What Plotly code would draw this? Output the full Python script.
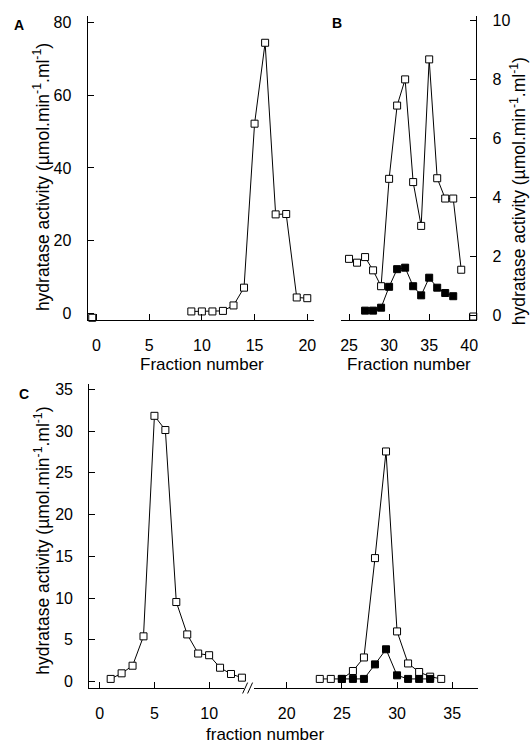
import plotly.graph_objects as go

W, H = 532, 748

# ---- data ----
a_x = [9, 10, 11, 12, 13, 14, 15, 16, 17, 18, 19, 20]
a_y = [0.45, 0.45, 0.45, 0.6, 2.1, 7.0, 52.2, 74.5, 27.2, 27.3, 4.3, 4.1]
a_corner_x = [-0.4]
a_corner_y = [-1.3]

b_open_x = [25, 26, 27, 28, 29, 30, 31, 32, 33, 34, 35, 36, 37, 38, 39]
b_open_y = [1.91, 1.78, 1.97, 1.52, 0.98, 4.63, 7.12, 8.01, 4.52, 3.03, 8.69, 4.65, 3.96, 3.96, 1.54]
b_fill_x = [27, 28, 29, 30, 31, 32, 33, 34, 35, 36, 37, 38]
b_fill_y = [0.15, 0.15, 0.25, 0.96, 1.56, 1.61, 0.98, 0.67, 1.27, 0.93, 0.75, 0.64]
b_corner_x = [40.5]
b_corner_y = [-0.05]

c1_x = [1, 2, 3, 4, 5, 6, 7, 8, 9, 10, 11, 12, 13]
c1_y = [0.32, 0.99, 1.9, 5.42, 31.83, 30.13, 9.53, 5.65, 3.36, 3.16, 1.66, 0.91, 0.47]
c2_open_x = [23, 24, 25, 26, 27, 28, 29, 30, 31, 32, 33, 34]
c2_open_y = [0.32, 0.32, 0.32, 1.27, 2.89, 14.79, 27.56, 6.01, 2.17, 1.15, 0.59, 0.32]
c2_fill_x = [25, 26, 27, 28, 29, 30, 31, 32, 33]
c2_fill_y = [0.32, 0.32, 0.32, 2.06, 3.87, 0.75, 0.32, 0.32, 0.32]

a_xticks = [0, 5, 10, 15, 20]
a_yticks = [0, 20, 40, 60, 80]
b_xticks = [25, 30, 35, 40]
b_yticks = [0, 2, 4, 6, 8, 10]
c_left_ticks = [0, 5, 10]
c_right_ticks = [20, 25, 30, 35]
c_yticks = [0, 5, 10, 15, 20, 25, 30, 35]

FONT = "Liberation Sans, Arial, sans-serif"
ytitle = "hydratase activity (µmol.min<sup>-1</sup>.ml<sup>-1</sup>)"

def px(x):
    return x / W

def py(y):
    return 1 - y / H

open_marker = dict(symbol="square", size=7, color="white", line=dict(color="black", width=1))
fill_marker = dict(symbol="square", size=7, color="black", line=dict(color="black", width=1))
line = dict(color="black", width=1)

fig = go.Figure()
fig.add_trace(go.Scatter(x=a_x, y=a_y, mode="lines+markers", marker=open_marker, line=line, xaxis="x", yaxis="y", cliponaxis=False))
fig.add_trace(go.Scatter(x=a_corner_x, y=a_corner_y, mode="markers", marker=open_marker, xaxis="x", yaxis="y", cliponaxis=False))
fig.add_trace(go.Scatter(x=b_open_x, y=b_open_y, mode="lines+markers", marker=open_marker, line=line, xaxis="x2", yaxis="y2", cliponaxis=False))
fig.add_trace(go.Scatter(x=b_fill_x, y=b_fill_y, mode="lines+markers", marker=fill_marker, line=line, xaxis="x2", yaxis="y2", cliponaxis=False))
fig.add_trace(go.Scatter(x=b_corner_x, y=b_corner_y, mode="markers", marker=open_marker, xaxis="x2", yaxis="y2", cliponaxis=False))
fig.add_trace(go.Scatter(x=c1_x, y=c1_y, mode="lines+markers", marker=open_marker, line=line, xaxis="x3", yaxis="y3", cliponaxis=False))
fig.add_trace(go.Scatter(x=c2_open_x, y=c2_open_y, mode="lines+markers", marker=open_marker, line=line, xaxis="x4", yaxis="y4", cliponaxis=False))
fig.add_trace(go.Scatter(x=c2_fill_x, y=c2_fill_y, mode="lines+markers", marker=fill_marker, line=line, xaxis="x4", yaxis="y4", cliponaxis=False))

tickfont = dict(family=FONT, size=16, color="black")
common = dict(showgrid=False, zeroline=False, showline=True, linecolor="black", linewidth=1,
              ticks="inside", ticklen=6, tickcolor="black", tickwidth=1, tickfont=tickfont)
xc = dict(common, ticklabelstandoff=11)
yc = dict(common, ticklabelstandoff=12)

A_top, A_bot = 13, 320
fig.update_layout(
    xaxis=dict(domain=[px(87), px(315)], range=[-0.85, 20.66], tickvals=a_xticks, anchor="y", **xc),
    yaxis=dict(domain=[py(A_bot), py(A_top)], range=[(313 - 320) / 3.6625, (313 - 13) / 3.6625], tickvals=a_yticks, anchor="x", **yc),
    xaxis2=dict(domain=[px(341.7), px(478)], range=[23.97, 40.88], tickvals=b_xticks, anchor="y2", **xc),
    yaxis2=dict(domain=[py(A_bot), py(A_top)], range=[(315 - 320) / 29.7, (315 - 13) / 29.7], tickvals=b_yticks, anchor="x2", side="right", **yc),
    xaxis3=dict(domain=[px(88.7), px(244)], range=[(88.7 - 99.3) / 11.0, (244 - 99.3) / 11.0], tickvals=c_left_ticks, anchor="y3", **xc),
    yaxis3=dict(domain=[py(691.7), py(385)], range=[(685 - 691.7) / 8.4286, (685 - 385) / 8.4286], tickvals=c_yticks, anchor="x3", **yc),
    xaxis4=dict(domain=[px(254), px(479.3)], range=[20 + (254 - 287.3) / 11.1, 20 + (479.3 - 287.3) / 11.1], tickvals=c_right_ticks, anchor="y4", **xc),
    yaxis4=dict(domain=[py(691.7), py(385)], range=[(685 - 691.7) / 8.4286, (685 - 385) / 8.4286], anchor="x4",
                visible=False, showgrid=False, zeroline=False),
)

xtitlefont = dict(family=FONT, size=17, color="black")
ytitlefont = dict(family=FONT, size=17.5, color="black")
letterfont = dict(family=FONT, size=14, color="black")

def note(text, x, y, font, angle=0):
    return dict(text=text, x=px(x), y=py(y), xref="paper", yref="paper", showarrow=False,
                xanchor="center", yanchor="middle", textangle=angle, font=font)

ann = [
    note("Fraction number", 202, 365, xtitlefont),
    note("Fraction number", 410, 365, xtitlefont),
    note("fraction number", 265, 738, xtitlefont),
    note(ytitle, 41, 176, ytitlefont, -90),
    note(ytitle, 41, 543, ytitlefont, -90),
    note(ytitle, 520, 190, ytitlefont, -90),
    note("<b>A</b>", 18, 22, letterfont),
    note("<b>B</b>", 338, 20, letterfont),
    note("<b>C</b>", 23, 395, letterfont),
]

shapes = [
    dict(type="line", xref="paper", yref="paper", x0=px(243), y0=py(697), x1=px(248), y1=py(686), line=dict(color="black", width=1)),
    dict(type="line", xref="paper", yref="paper", x0=px(248), y0=py(697), x1=px(253), y1=py(686), line=dict(color="black", width=1)),
]

fig.update_layout(width=W, height=H, margin=dict(l=0, r=0, t=0, b=0), paper_bgcolor="white", plot_bgcolor="white",
                  showlegend=False, annotations=ann, shapes=shapes, font=dict(family=FONT, color="black"))

fig.write_html("out.html", config={"displayModeBar": False},
               post_script="document.body.style.margin='0';document.body.style.overflow='hidden';")
